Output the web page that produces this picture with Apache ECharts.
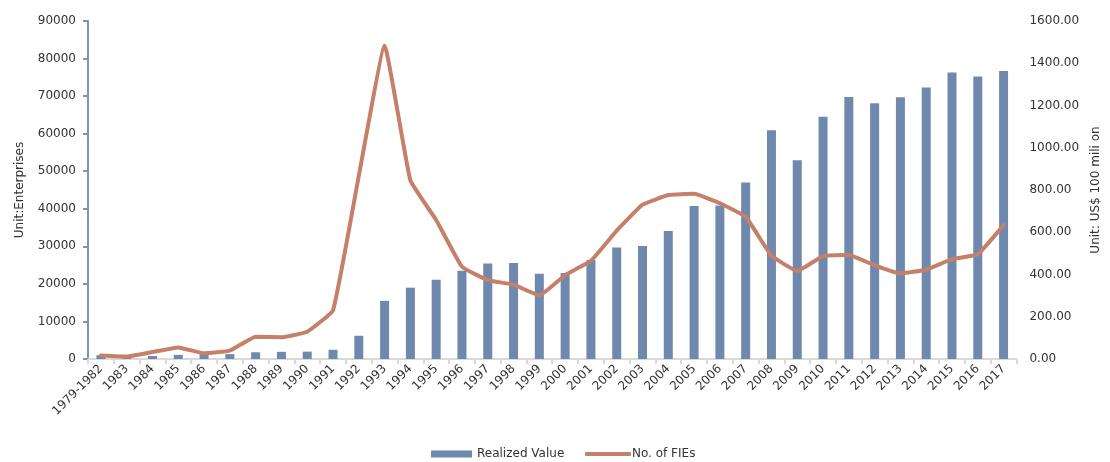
<!DOCTYPE html>
<html>
<head>
<meta charset="utf-8">
<script src="https://cdn.jsdelivr.net/npm/echarts@6/dist/echarts.min.js"></script>
<style>
  html, body { margin: 0; padding: 0; background: #fff; }
  #chart { width: 1110px; height: 462px; }
</style>
</head>
<body>
<div id="chart"></div>
<script>
// Years (first bucket covers 1979-1982)
const years = ['1979-1982', '1983', '1984', '1985', '1986', '1987', '1988', '1989', '1990', '1991',
  '1992', '1993', '1994', '1995', '1996', '1997', '1998', '1999', '2000', '2001', '2002', '2003',
  '2004', '2005', '2006', '2007', '2008', '2009', '2010', '2011', '2012', '2013', '2014', '2015',
  '2016', '2017'];

// Realized value, US$ 100 million (right axis)
const realizedValue = [17.7, 9.2, 14.2, 19.6, 22.4, 23.1, 31.9, 33.9, 34.9, 43.7,
  110.1, 275.2, 337.7, 375.2, 417.3, 452.6, 454.6, 403.2, 407.2, 468.8, 527.4, 535.1,
  606.3, 724.1, 727.2, 835.2, 1083.1, 940.7, 1147.3, 1239.9, 1210.7, 1239.1, 1285.0, 1355.8,
  1337.1, 1363.2];

// Number of foreign-invested enterprises (left axis)
const fieCount = [922, 638, 1856, 3073, 1498, 2233, 5945, 5779, 7273, 12978,
  48764, 83437, 47549, 37011, 24556, 21001, 19799, 16918, 22347, 26140, 34171, 41081,
  43664, 44001, 41473, 37871, 27514, 23435, 27406, 27712, 24925, 22773, 23778, 26575,
  27900, 35652];

const FONT = 'DejaVu Sans';
const BAR_COLOR = '#6e89ad';
const LINE_COLOR = '#c5806a';
const chart = echarts.init(document.getElementById('chart'), null, { renderer: 'canvas' });

chart.setOption({
  animation: false,
  backgroundColor: '#ffffff',
  textStyle: { fontFamily: FONT },
  grid: { left: 88, right: 90, top: 21, bottom: 103, containLabel: false },
  legend: [
    {
      left: 426,
      top: 443,
      itemWidth: 41,
      itemHeight: 7,
      icon: 'rect',
      textStyle: { fontFamily: FONT, fontSize: 12, color: '#333' },
      data: ['Realized Value']
    },
    {
      left: 580,
      top: 443,
      itemWidth: 46,
      itemHeight: 4,
      icon: 'roundRect',
      itemStyle: { color: LINE_COLOR },
      textStyle: { fontFamily: FONT, fontSize: 12, color: '#333', padding: [0, 0, 0, -4] },
      data: ['No. of FIEs']
    }
  ],
  xAxis: {
    type: 'category',
    data: years,
    boundaryGap: true,
    axisLine: { show: true, lineStyle: { color: '#d9d9d9', width: 2 } },
    axisTick: { show: true, alignWithLabel: false, length: 5, lineStyle: { color: '#d9d9d9', width: 2 } },
    axisLabel: { interval: 0, rotate: 45, fontSize: 12, color: '#333', margin: 8, fontFamily: FONT },
    splitLine: { show: false }
  },
  yAxis: [
    {
      type: 'value',
      min: 0, max: 90000, interval: 10000,
      position: 'left',
      name: 'Unit:Enterprises',
      nameLocation: 'middle',
      nameGap: 62,
      nameRotate: 90,
      nameTextStyle: { fontSize: 12, color: '#333', fontFamily: FONT },
      axisLine: { show: true, lineStyle: { color: '#7a95bd', width: 2 } },
      axisTick: { show: true, length: 5, lineStyle: { color: '#7a95bd', width: 2 } },
      axisLabel: {
        fontSize: 12, color: '#333', margin: 12, fontFamily: FONT,
        formatter: v => String(v)
      },
      splitLine: { show: false }
    },
    {
      type: 'value',
      min: 0, max: 1600, interval: 200,
      position: 'right',
      name: 'Unit: US$ 100 mili on',
      nameLocation: 'middle',
      nameGap: 66,
      nameRotate: 90,
      nameTextStyle: { fontSize: 12, color: '#333', fontFamily: FONT },
      axisLine: { show: false },
      axisTick: { show: false },
      axisLabel: {
        fontSize: 12, color: '#333', margin: 13, fontFamily: FONT,
        formatter: v => v.toFixed(2)
      },
      splitLine: { show: false }
    }
  ],
  series: [
    {
      name: 'Realized Value',
      type: 'bar',
      yAxisIndex: 1,
      data: realizedValue,
      barWidth: 9,
      itemStyle: { color: BAR_COLOR }
    },
    {
      name: 'No. of FIEs',
      type: 'line',
      yAxisIndex: 0,
      data: fieCount,
      smooth: 0.1,
      showSymbol: false,
      lineStyle: { color: LINE_COLOR, width: 4, cap: 'round', join: 'round' },
      itemStyle: { color: LINE_COLOR }
    }
  ]
});
</script>
</body>
</html>
